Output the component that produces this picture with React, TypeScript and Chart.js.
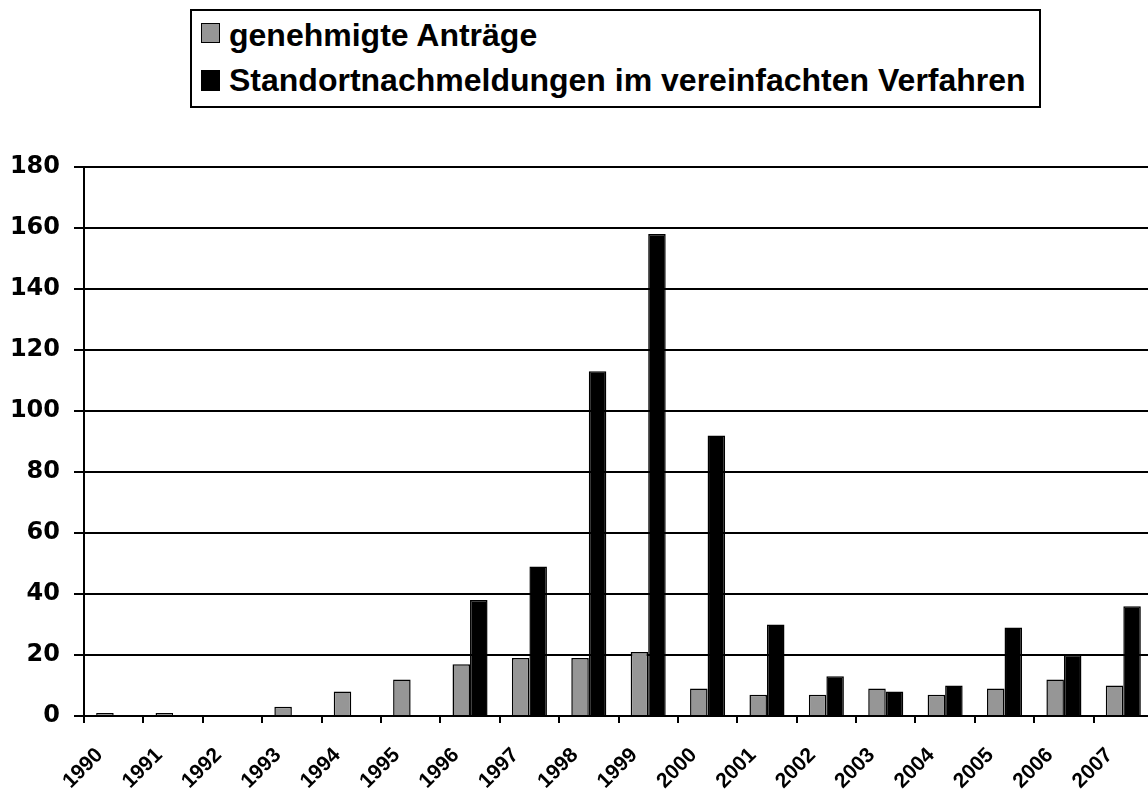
import React, { useEffect, useRef } from "react";
import { Chart, registerables } from "chart.js";

Chart.register(...registerables);

const years = ["1990","1991","1992","1993","1994","1995","1996","1997","1998","1999","2000","2001","2002","2003","2004","2005","2006","2007"];
const approved = [1, 1, 0, 3, 8, 12, 17, 19, 19, 21, 9, 7, 7, 9, 7, 9, 12, 10];
const simplified = [0, 0, 0, 0, 0, 0, 38, 49, 113, 158, 92, 30, 13, 8, 10, 29, 20, 36];
const seriesNames = ["genehmigte Anträge", "Standortnachmeldungen im vereinfachten Verfahren"];
const seriesColors = ["#969696", "#000000"];

const FONT = "Arial, 'Liberation Sans', Helvetica, sans-serif";
const FONT_Y = "'DejaVu Sans', Arial, sans-serif";

export default function App() {
  const ref = useRef<HTMLCanvasElement | null>(null);

  useEffect(() => {
    if (!ref.current) return;
    const chart = new Chart(ref.current, {
      type: "bar",
      data: {
        labels: years,
        datasets: [
          {
            label: seriesNames[0],
            data: approved,
            backgroundColor: seriesColors[0],
            borderColor: "#000000",
            borderWidth: 1.5,
            categoryPercentage: 0.59,
            barPercentage: 1.0,
          },
          {
            label: seriesNames[1],
            data: simplified,
            backgroundColor: seriesColors[1],
            borderColor: "#000000",
            borderWidth: 1.5,
            categoryPercentage: 0.59,
            barPercentage: 1.0,
          },
        ],
      },
      options: {
        responsive: false,
        animation: false,
        layout: { padding: { top: 167, left: 0, right: 0, bottom: 0 } },
        plugins: {
          legend: { display: false },
          tooltip: { enabled: false },
        },
        scales: {
          x: {
            grid: {
              display: true,
              drawOnChartArea: false,
              drawTicks: true,
              tickLength: 7,
              color: "#000000",
              lineWidth: 2,
              offset: true,
            },
            border: { display: true, color: "#000000", width: 2 },
            ticks: {
              maxRotation: 45,
              minRotation: 45,
              padding: 20,
              labelOffset: -14,
              color: "#000000",
              font: { family: FONT, size: 21, weight: "bold" },
              autoSkip: false,
            },
            afterFit: (s: any) => {
              s.height = 75;
              s.paddingLeft = 0;
              s.paddingRight = 0;
            },
          },
          y: {
            min: 0,
            max: 180,
            ticks: {
              stepSize: 20,
              padding: 14,
              color: "#000000",
              font: { family: FONT_Y, size: 24, weight: "bold" },
            },
            grid: {
              color: "#000000",
              lineWidth: 2,
              drawTicks: true,
              tickLength: 10,
            },
            border: { display: true, color: "#000000", width: 2 },
            afterFit: (s: any) => {
              s.width = 84;
            },
          },
        },
      },
    });
    return () => chart.destroy();
  }, []);

  const legendText: React.CSSProperties = {
    position: "absolute",
    left: 37,
    fontFamily: FONT,
    fontWeight: "bold",
    fontSize: 32,
    lineHeight: "32px",
    color: "#000",
    whiteSpace: "nowrap",
  };
  const swatch = (top: number, h: number, color: string): React.CSSProperties => ({
    position: "absolute",
    left: 9,
    top,
    width: 19,
    height: h,
    boxSizing: "border-box",
    background: color,
    border: "1.5px solid #000",
  });

  return (
    <div
      style={{
        position: "fixed",
        left: 0,
        top: 0,
        width: 1148,
        height: 791,
        overflow: "hidden",
        background: "#fff",
      }}
    >
      <canvas ref={ref} width={1153} height={791} style={{ position: "absolute", left: 0, top: 0 }} />
      <div
        style={{
          position: "absolute",
          left: 190,
          top: 9,
          width: 847,
          height: 95,
          border: "2px solid #000",
          background: "#fff",
        }}
      >
        <div style={swatch(12, 20, seriesColors[0])} />
        <div style={{ ...legendText, top: 8 }}>{seriesNames[0]}</div>
        <div style={swatch(59, 21, seriesColors[1])} />
        <div style={{ ...legendText, top: 53 }}>{seriesNames[1]}</div>
      </div>
    </div>
  );
}
